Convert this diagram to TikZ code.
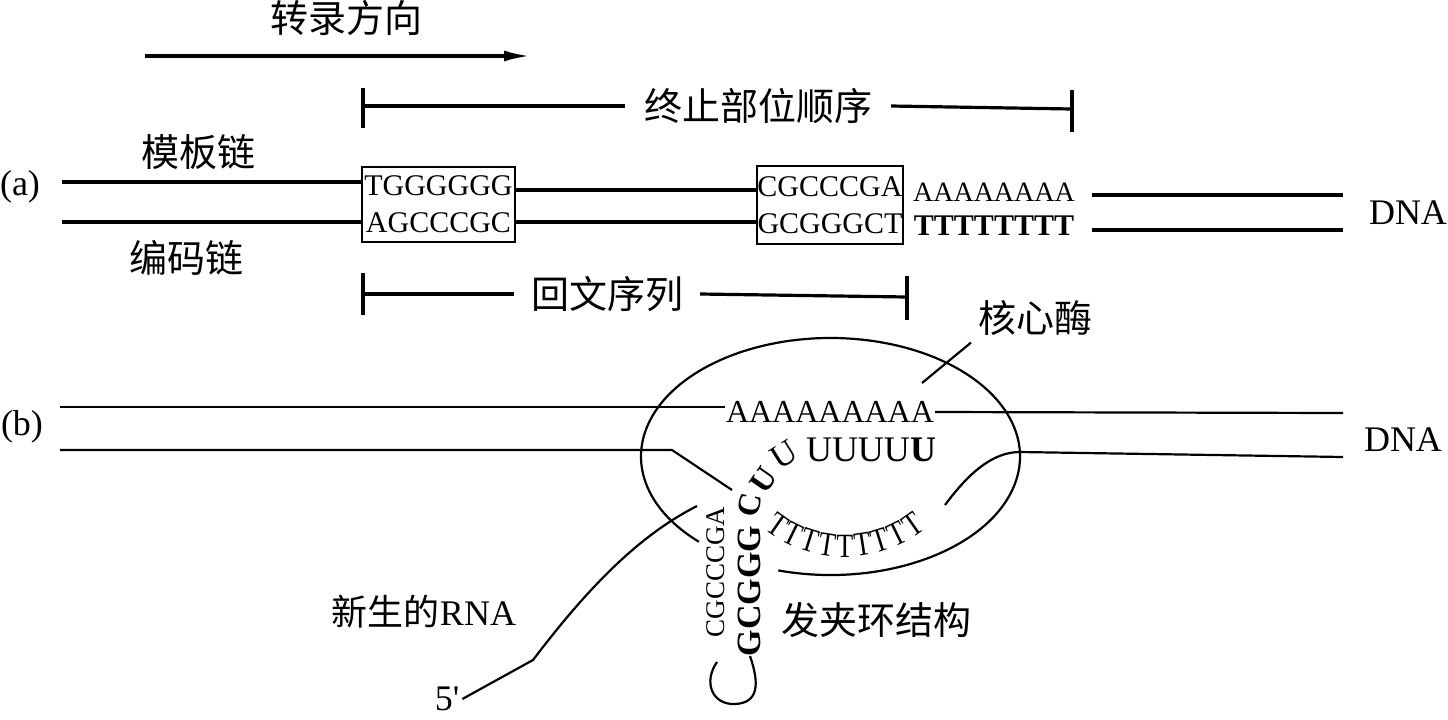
\documentclass[tikz,border=0pt]{standalone}
\usepackage{fontspec}
\setmainfont{Liberation Serif}
\newfontfamily\cjk{Noto Sans CJK SC}
\usetikzlibrary{arrows.meta}

\begin{document}
\begin{tikzpicture}[x=0.5pt,y=-0.5pt,line width=1.1pt,
                    cn/.style={font=\cjk\fontsize{19}{19}\selectfont,inner sep=3pt},
                    lat/.style={font=\fontsize{18}{18}\selectfont,inner sep=1pt},
                    seq/.style={font=\fontsize{15}{18.5}\selectfont,inner sep=0pt},
                    seq box/.style={draw,align=center,font=\fontsize{15}{18.5}\selectfont,inner sep=0pt},
                    strand/.style={line width=1.6pt}]
  \useasboundingbox (0,0) rectangle (1448,719);

  % (a) DNA with terminator
  \node[cn] (dir) at (346,18) {转录方向};
  \coordinate (dir start) at (145,56);
  \coordinate (dir end) at (530,56);
  \draw[strand,-{Latex[length=13pt,width=5.5pt]}] (dir start) -- (dir end);

  \node[cn,inner sep=9pt] (term) at (758,106) {终止部位顺序};
  \coordinate (term l) at (363,106);
  \coordinate (term r) at (1072,109);
  \draw[strand] (363,88) -- (363,128) (1072,90) -- (1072,132);
  \draw[strand] (term l) -- (term.west);
  \draw[strand] (term.east) -- (term r);

  \node[lat] (lab a) at (20,187) {(a)};
  \node[cn] (tpl) at (198,152) {模板链};
  \node[cn] (cod) at (186,258) {编码链};

  \node[seq box,minimum width=76.5pt,minimum height=37.5pt] (box1) at (438.5,204.5) {TGGGGGG\\AGCCCGC};
  \node[seq box,minimum width=73pt,minimum height=39pt] (box2) at (830,205) {CGCCCGA\\GCGGGCT};
  \node[seq,font=\fontsize{14}{14}\selectfont] (tail A) at (994,192) {AAAAAAAA};
  \node[seq,font=\bfseries\fontsize{15}{15}\selectfont] (tail T) at (994,226) {TTTTTTTT};

  \coordinate (tpl l) at (62,182);
  \coordinate (cod l) at (62,222);
  \coordinate (tpl m) at (636,190);
  \coordinate (cod m) at (636,222);
  \coordinate (tpl r) at (1092,195);
  \coordinate (cod r) at (1092,230);
  \draw[strand] (tpl l) -- (tpl l -| box1.west);
  \draw[strand] (cod l) -- (cod l -| box1.west);
  \draw[strand] (tpl m -| box1.east) -- (tpl m -| box2.west);
  \draw[strand] (cod m -| box1.east) -- (cod m -| box2.west);
  \draw[strand] (tpl r) -- ++(251,0);
  \draw[strand] (cod r) -- ++(251,0);
  \node[lat] (dna a) at (1408,213) {DNA};

  \node[cn,inner xsep=8pt] (pal) at (607,294) {回文序列};
  \coordinate (pal l) at (363,294);
  \coordinate (pal r) at (907,297);
  \draw[strand] (363,273) -- (363,315) (907,276) -- (907,320);
  \draw[strand] (pal l) -- (pal.west);
  \draw[strand] (pal.east) -- (pal r);

  % (b) hairpin in the core enzyme
  \node[lat] (lab b) at (22,427) {(b)};
  \node[seq,font=\fontsize{16}{16}\selectfont] (rna A) at (830,412) {AAAAAAAAA};
  \coordinate (top l) at (60,407);
  \coordinate (top r) at (1343,413);
  \draw (top l) -- (top l -| rna A.west);
  \draw (rna A.east) -- (top r);

  \coordinate (bot l) at (60,450);
  \coordinate (bot r) at (1343,457);
  \draw (bot l) -- (672,450) -- (732,490);
  \draw (bot r) -- (1020,452) .. controls (992,452) and (968,474) .. (945,505);
  \node[lat] (dna b) at (1403,440) {DNA};

  \coordinate (enz) at (830.5,456.5);
  \draw ([shift={(254:94.75pt and 59.25pt)}]enz) arc[start angle=254,end angle=586,x radius=94.75pt,y radius=59.25pt];
  \node[cn] (core) at (1035,318) {核心酶};
  \coordinate (core tip) at (922,383);
  \draw (core.south west) -- (core tip);

  \node[seq,font=\fontsize{18}{18}\selectfont] (rna U) at (871,450) {UUUU\textbf{U}};
  \node[seq,font=\fontsize{17}{17}\selectfont,rotate=32] (u2) at (784,455) {U};
  \node[seq,font=\bfseries\fontsize{16}{16}\selectfont,rotate=55] (u1) at (764,480) {U};
  \node[seq,font=\bfseries\fontsize{16}{16}\selectfont,rotate=78] (c1) at (750,505) {C};
  \node[seq,font=\bfseries\fontsize{17}{17}\selectfont,rotate=90] (stem r) at (749,591) {GCGGG};
  \node[seq,font=\fontsize{13.5}{13.5}\selectfont,rotate=90] (stem l) at (716,572) {CGCCCGA};

  \coordinate (t arc) at (845,428);
  \foreach \i [evaluate=\i as \a using 235+8.75*\i] in {0,...,8}
    \node[seq,font=\fontsize{17}{17}\selectfont,rotate=\a-270] at ([shift={(\a:59pt)}]t arc) {\scalebox{0.8}[1]{T}};

  \draw (717,662) .. controls (703,682) and (712,705) .. (735,704)
                  .. controls (758,703) and (760,685) .. (750,656);

  \node[lat] (five) at (447,699) {5\textquotesingle};
  \draw (five.east) -- (533,660) .. controls (590,585) and (640,535) .. (697,506);
  \node[lat] (nascent) at (424,612) {{\cjk 新生的}RNA};
  \node[cn] (hairpin) at (876,620) {发夹环结构};
\end{tikzpicture}
\end{document}
